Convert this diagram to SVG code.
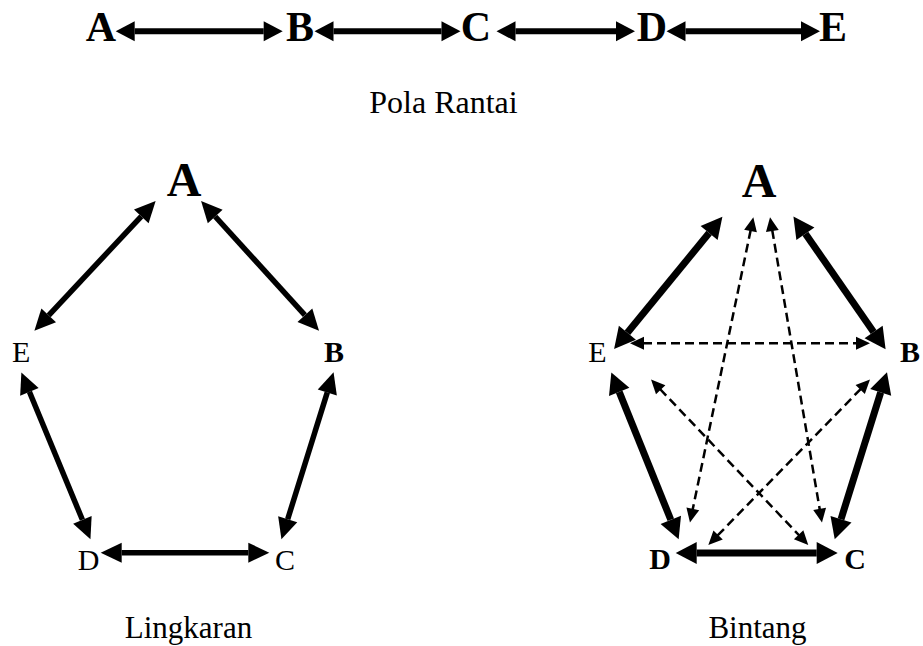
<svg xmlns="http://www.w3.org/2000/svg" width="923" height="646" viewBox="0 0 923 646">
<style>
.t{font-family:"Liberation Serif","Times New Roman",serif;fill:#000;text-anchor:middle}
.b{font-weight:bold}
.s1{stroke:#000;stroke-width:6;fill:none}
.s2{stroke:#000;stroke-width:5.5;fill:none}
.s3{stroke:#000;stroke-width:7;fill:none}
.d{stroke:#000;stroke-width:2.5;fill:none;stroke-dasharray:9 5}
</style>
<defs>
<marker id="h1" markerUnits="userSpaceOnUse" orient="auto-start-reverse" refX="0" refY="0" markerWidth="20" markerHeight="20" overflow="visible"><path d="M0,-10 L19,0 L0,10 z" fill="#000"/></marker>
<marker id="h2" markerUnits="userSpaceOnUse" orient="auto-start-reverse" refX="0" refY="0" markerWidth="21" markerHeight="20" overflow="visible"><path d="M0,-10 L21,0 L0,10 z" fill="#000"/></marker>
<marker id="h3" markerUnits="userSpaceOnUse" orient="auto-start-reverse" refX="0" refY="0" markerWidth="21" markerHeight="21" overflow="visible"><path d="M0,-11 L21,0 L0,11 z" fill="#000"/></marker>
<marker id="hd" markerUnits="userSpaceOnUse" orient="auto-start-reverse" refX="0" refY="0" markerWidth="14" markerHeight="14" overflow="visible"><path d="M-1,-6.5 L13,0 L-1,6.5 z" fill="#000"/></marker>
</defs>

<g id="chain-nodes">
<g id="chain-A"><text class="t b" x="101" y="40.5" font-size="42">A</text></g>
<g id="chain-B"><text class="t b" x="300" y="40.5" font-size="42">B</text></g>
<g id="chain-C"><text class="t b" x="476" y="40.5" font-size="42">C</text></g>
<g id="chain-D"><text class="t b" x="652" y="40.5" font-size="42">D</text></g>
<g id="chain-E"><text class="t b" x="833" y="40.5" font-size="42">E</text></g>
</g>
<g id="label-chain"><text class="t" x="443.5" y="113" font-size="32">Pola Rantai</text></g>

<g id="circle-nodes">
<g id="ring-A"><text class="t b" x="184" y="196" font-size="48">A</text></g>
<g id="ring-B"><text class="t b" x="334" y="361.5" font-size="30">B</text></g>
<g id="ring-C"><text class="t" x="285" y="569.5" font-size="30">C</text></g>
<g id="ring-D"><text class="t" x="88.5" y="569.5" font-size="30">D</text></g>
<g id="ring-E"><text class="t" x="21.2" y="361.5" font-size="30">E</text></g>
</g>
<g id="label-ring"><text class="t" x="188.5" y="637.5" font-size="31">Lingkaran</text></g>

<g id="star-nodes">
<g id="star-A"><text class="t b" x="759" y="196.5" font-size="48">A</text></g>
<g id="star-B"><text class="t b" x="910" y="361.5" font-size="30">B</text></g>
<g id="star-C"><text class="t b" x="855" y="568.5" font-size="30">C</text></g>
<g id="star-D"><text class="t b" x="660" y="568.5" font-size="30">D</text></g>
<g id="star-E"><text class="t" x="597.5" y="361.5" font-size="30">E</text></g>
</g>
<g id="label-star"><text class="t" x="757.5" y="637.5" font-size="31">Bintang</text></g>

<g id="connectors">
<g id="chain-edges">
<line class="s1" x1="134.7" y1="31.3" x2="263.7" y2="31.3" marker-start="url(#h1)" marker-end="url(#h1)"/>
<line class="s1" x1="333.5" y1="31.3" x2="441.5" y2="31.3" marker-start="url(#h1)" marker-end="url(#h1)"/>
<line class="s1" x1="515.5" y1="31.3" x2="616" y2="31.3" marker-start="url(#h1)" marker-end="url(#h1)"/>
<line class="s1" x1="685.5" y1="31.3" x2="801" y2="31.3" marker-start="url(#h1)" marker-end="url(#h1)"/>
</g>
<g id="ring-edges">
<line class="s2" x1="141.3" y1="216.3" x2="48.7" y2="315.4" marker-start="url(#h2)" marker-end="url(#h2)"/>
<line class="s2" x1="215.2" y1="216.5" x2="304.9" y2="315.2" marker-start="url(#h2)" marker-end="url(#h2)"/>
<line class="s2" x1="29.4" y1="391.8" x2="82.4" y2="519.8" marker-start="url(#h2)" marker-end="url(#h2)"/>
<line class="s2" x1="327.3" y1="392.4" x2="287.7" y2="519.2" marker-start="url(#h2)" marker-end="url(#h2)"/>
<line class="s2" x1="121.7" y1="552.7" x2="248.3" y2="552.7" marker-start="url(#h2)" marker-end="url(#h2)"/>
</g>
<g id="star-edges">
<line class="s3" x1="709.1" y1="233" x2="627.4" y2="332.8" marker-start="url(#h3)" marker-end="url(#h3)"/>
<line class="s3" x1="805.4" y1="233.7" x2="873.6" y2="331.9" marker-start="url(#h3)" marker-end="url(#h3)"/>
<line class="s3" x1="619.2" y1="391.9" x2="670.8" y2="519.8" marker-start="url(#h3)" marker-end="url(#h3)"/>
<line class="s3" x1="880.7" y1="392.4" x2="841" y2="519.2" marker-start="url(#h3)" marker-end="url(#h3)"/>
<line class="s3" x1="696.7" y1="553" x2="816.7" y2="553" marker-start="url(#h3)" marker-end="url(#h3)"/>
<line class="d" x1="643" y1="343.3" x2="857" y2="343.3" marker-start="url(#hd)" marker-end="url(#hd)"/>
<line class="d" x1="750.7" y1="230" x2="692.6" y2="509.8" marker-start="url(#hd)" marker-end="url(#hd)"/>
<line class="d" x1="772.2" y1="230" x2="819.8" y2="509.8" marker-start="url(#hd)" marker-end="url(#hd)"/>
<line class="d" x1="660" y1="389" x2="799.3" y2="535.5" marker-start="url(#hd)" marker-end="url(#hd)"/>
<line class="d" x1="860.9" y1="388.8" x2="717.4" y2="535.7" marker-start="url(#hd)" marker-end="url(#hd)"/>
</g>
</g>
</svg>
